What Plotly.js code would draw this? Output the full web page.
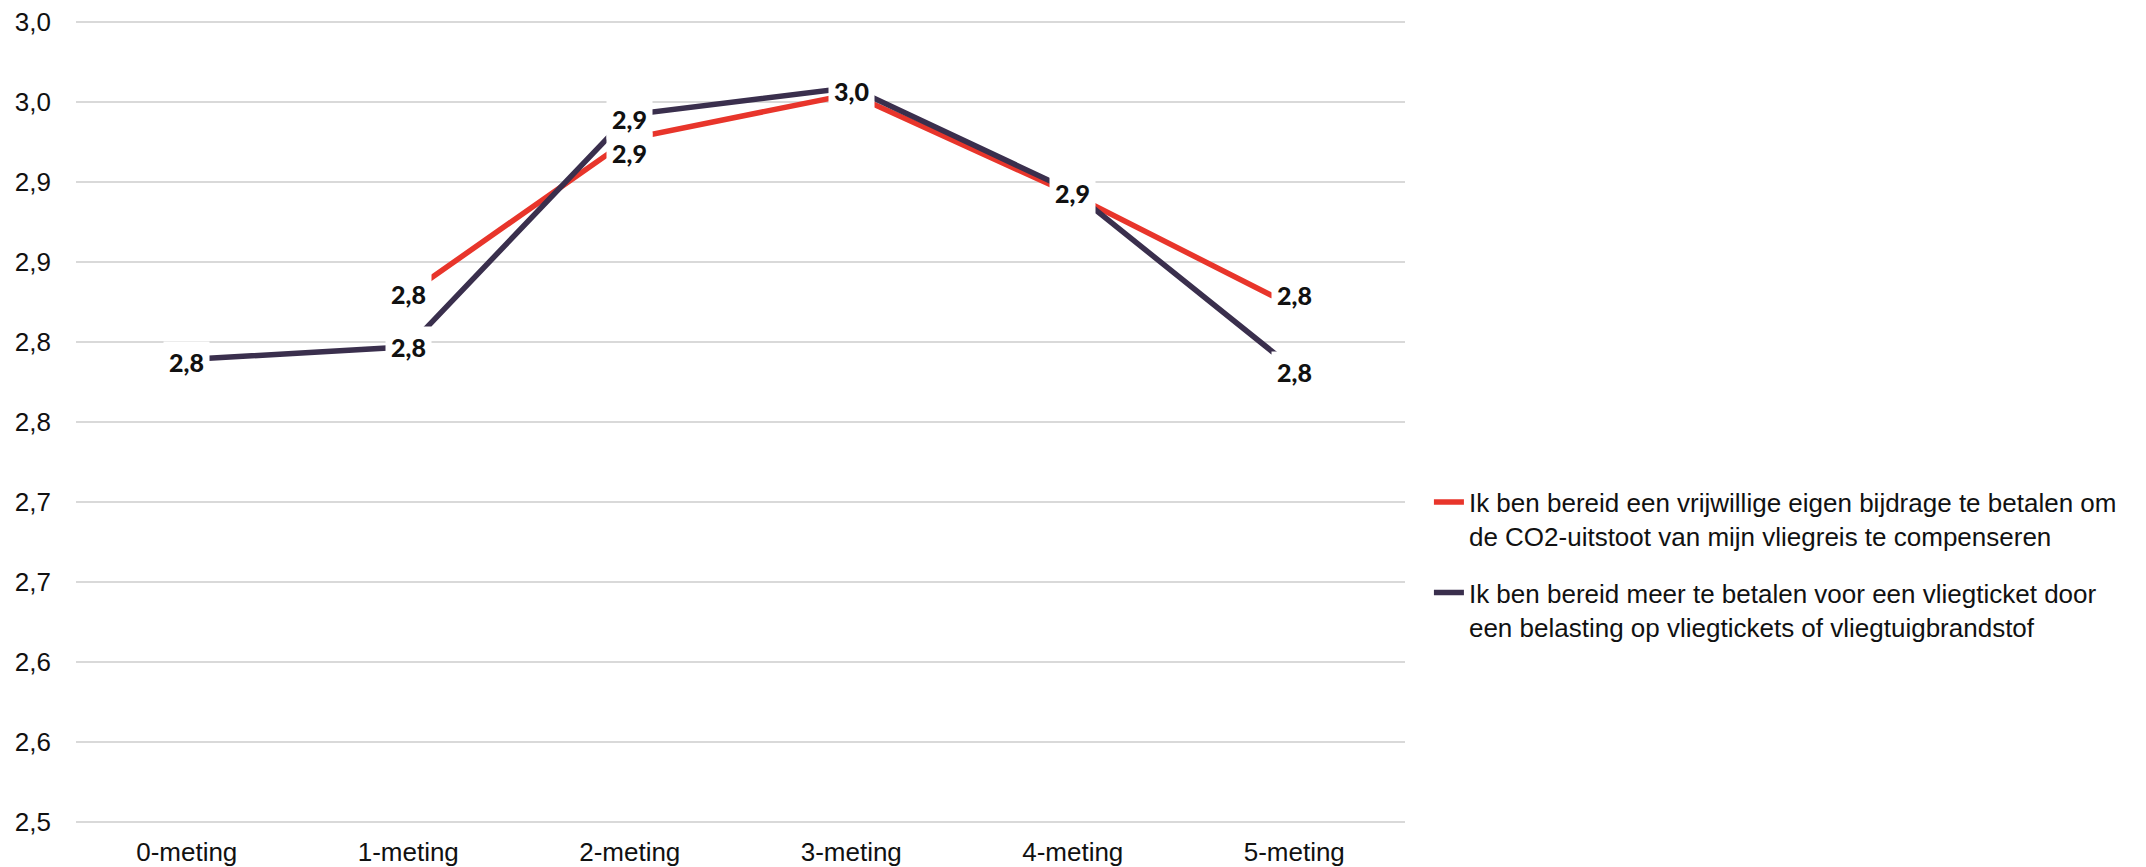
<!DOCTYPE html>
<html><head><meta charset="utf-8">
<script src="https://cdn.plot.ly/plotly-3.0.1.min.js"></script>
<style>html,body{margin:0;padding:0;background:#fff}#chart{width:2146px;height:867px}</style>
</head><body><div id="chart"></div>
<script>
// ---- data ----
const categories = ['0-meting', '1-meting', '2-meting', '3-meting', '4-meting', '5-meting'];
const seriesNames = [
  'Ik ben bereid een vrijwillige eigen bijdrage te betalen om<br>de CO2-uitstoot van mijn vliegreis te compenseren',
  'Ik ben bereid meer te betalen voor een vliegticket door<br>een belasting op vliegtickets of vliegtuigbrandstof'
];
const vrijwilligeBijdrage = [null, 2.83, 2.927, 2.955, 2.892, 2.822];
const belastingTicket = [2.789, 2.797, 2.942, 2.959, 2.894, 2.783];
const yTickValues = [2.50, 2.55, 2.60, 2.65, 2.70, 2.75, 2.80, 2.85, 2.90, 2.95, 3.00];
const yTickLabels = ['2,5', '2,6', '2,6', '2,7', '2,7', '2,8', '2,8', '2,9', '2,9', '3,0', '3,0'];

// ---- styles ----
const colors = ['#e8352b', '#3a2f4d'];
const labelShiftRed = [0, 0, -14, 0, 0, 12];
const labelShiftPurple = [-2, 0, -4, 0, 0, -3];

const fmt = v => v.toFixed(1).replace('.', ',');

const allSeries = [vrijwilligeBijdrage, belastingTicket];
const shifts = [labelShiftRed, labelShiftPurple];

const traces = allSeries.map((vals, k) => ({
  type: 'scatter', mode: 'lines',
  x: categories, y: vals, name: seriesNames[k],
  legendgroup: 'g' + k,
  line: {color: colors[k], width: 5.5},
  connectgaps: false, hoverinfo: 'skip'
}));

// one label per point; where both series coincide and show the same text, one shared label
const annotations = [];
categories.forEach((c, i) => {
  const r = vrijwilligeBijdrage[i], p = belastingTicket[i];
  const shared = r !== null && p !== null && Math.abs(r - p) < 0.006 && fmt(r) === fmt(p);
  allSeries.forEach((vals, k) => {
    const v = vals[i];
    if (v === null) return;
    if (shared && k === 1) return;
    const y = shared ? (r + p) / 2 : v;
    annotations.push({
      x: c, y: y, xref: 'x', yref: 'y',
      text: fmt(v), showarrow: false,
      bgcolor: '#ffffff', borderpad: 5,
      yshift: shared ? 0 : shifts[k][i],
      font: {family: 'Lato, sans-serif', size: 25, color: '#111', weight: 900}
    });
  });
});

const axisFont = {family: 'Liberation Sans, Arial, sans-serif', size: 26, color: '#111'};

const layout = {
  width: 2146, height: 867,
  paper_bgcolor: '#ffffff', plot_bgcolor: '#ffffff',
  margin: {l: 76, r: 741, t: 6, b: 29},
  showlegend: true,
  legend: {
    x: 1.018, xanchor: 'left', y: 0.432, yanchor: 'top',
    font: {family: 'Liberation Sans, Arial, sans-serif', size: 26, color: '#111'},
    tracegroupgap: 20, valign: 'top', itemwidth: 30, bgcolor: 'rgba(0,0,0,0)'
  },
  xaxis: {
    type: 'category', range: [-0.5, 5.5], showgrid: false, zeroline: false, showline: false,
    ticks: '', ticklabelstandoff: -4,
    tickfont: axisFont
  },
  yaxis: {
    range: [2.49, 3.01], tickmode: 'array', tickvals: yTickValues, ticktext: yTickLabels,
    showgrid: true, gridcolor: '#d9d9d9', gridwidth: 2, zeroline: false, showline: false,
    ticks: '', ticklabelstandoff: 24,
    tickfont: axisFont
  },
  annotations: annotations
};

Plotly.newPlot('chart', traces, layout, {displayModeBar: false, staticPlot: true});
</script>
</body></html>
